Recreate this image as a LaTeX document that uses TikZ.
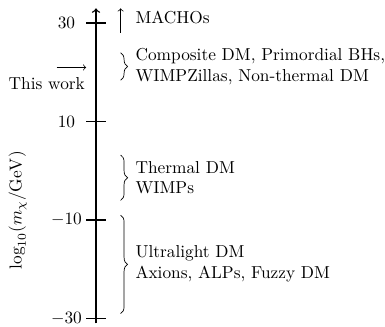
\documentclass[tikz,border=0pt]{standalone}
\usetikzlibrary{decorations.pathreplacing}
\begin{document}
\begin{tikzpicture}
	    \useasboundingbox (-1.95,-3.16) rectangle (5.87,3.47);
	    \coordinate (B) at (0,-3.1);
	    \coordinate (T) at (0,3.3);
	    \draw[thick,->] (B) -- (T);
	    % ticks
	    \foreach \v in {30,10,-10,-30}{
	    	\draw[thick] (-0.2,\v/10) -- (0.2,\v/10);
	    	\node (t\v) at (-0.6,\v/10) {$\v$};
	    }
	    \node[rotate=90] (L) at (-1.59,-0.8) {$\log_{10}(m_\chi/\mathrm{GeV})$};
	    
	    \coordinate (W1) at (-0.8,2.1);
	    \coordinate (W2) at (-0.2,2.1);
	    \draw[->] (W1) -- (W2);
	    \node (W) at (-1.0,1.78) {This work};
	    
	    \coordinate (M1) at (0.5,2.8);
	    \coordinate (M2) at (0.5,3.3);
	    \draw[->] (M1) -- (M2);
	    \node[right] (M) at (0.68,3.12) {MACHOs};
	    
	    \draw[decorate,decoration={brace,amplitude=4pt}] (0.5,2.4) -- (0.5,1.84);
	    \node[right,align=left] (C) at (0.68,2.12) {Composite DM, Primordial BHs,\\WIMPZillas, Non-thermal DM};
	    
	    \draw[decorate,decoration={brace,amplitude=4pt}] (0.5,0.32) -- (0.5,-0.6);
	    \node[right,align=left] (Th) at (0.68,-0.14) {Thermal DM\\WIMPs};
	    
	    \draw[decorate,decoration={brace,amplitude=4pt}] (0.5,-0.9) -- (0.5,-2.9);
	    \node[right,align=left] (U) at (0.68,-1.88) {Ultralight DM\\Axions, ALPs, Fuzzy DM};
\end{tikzpicture}
\end{document}
